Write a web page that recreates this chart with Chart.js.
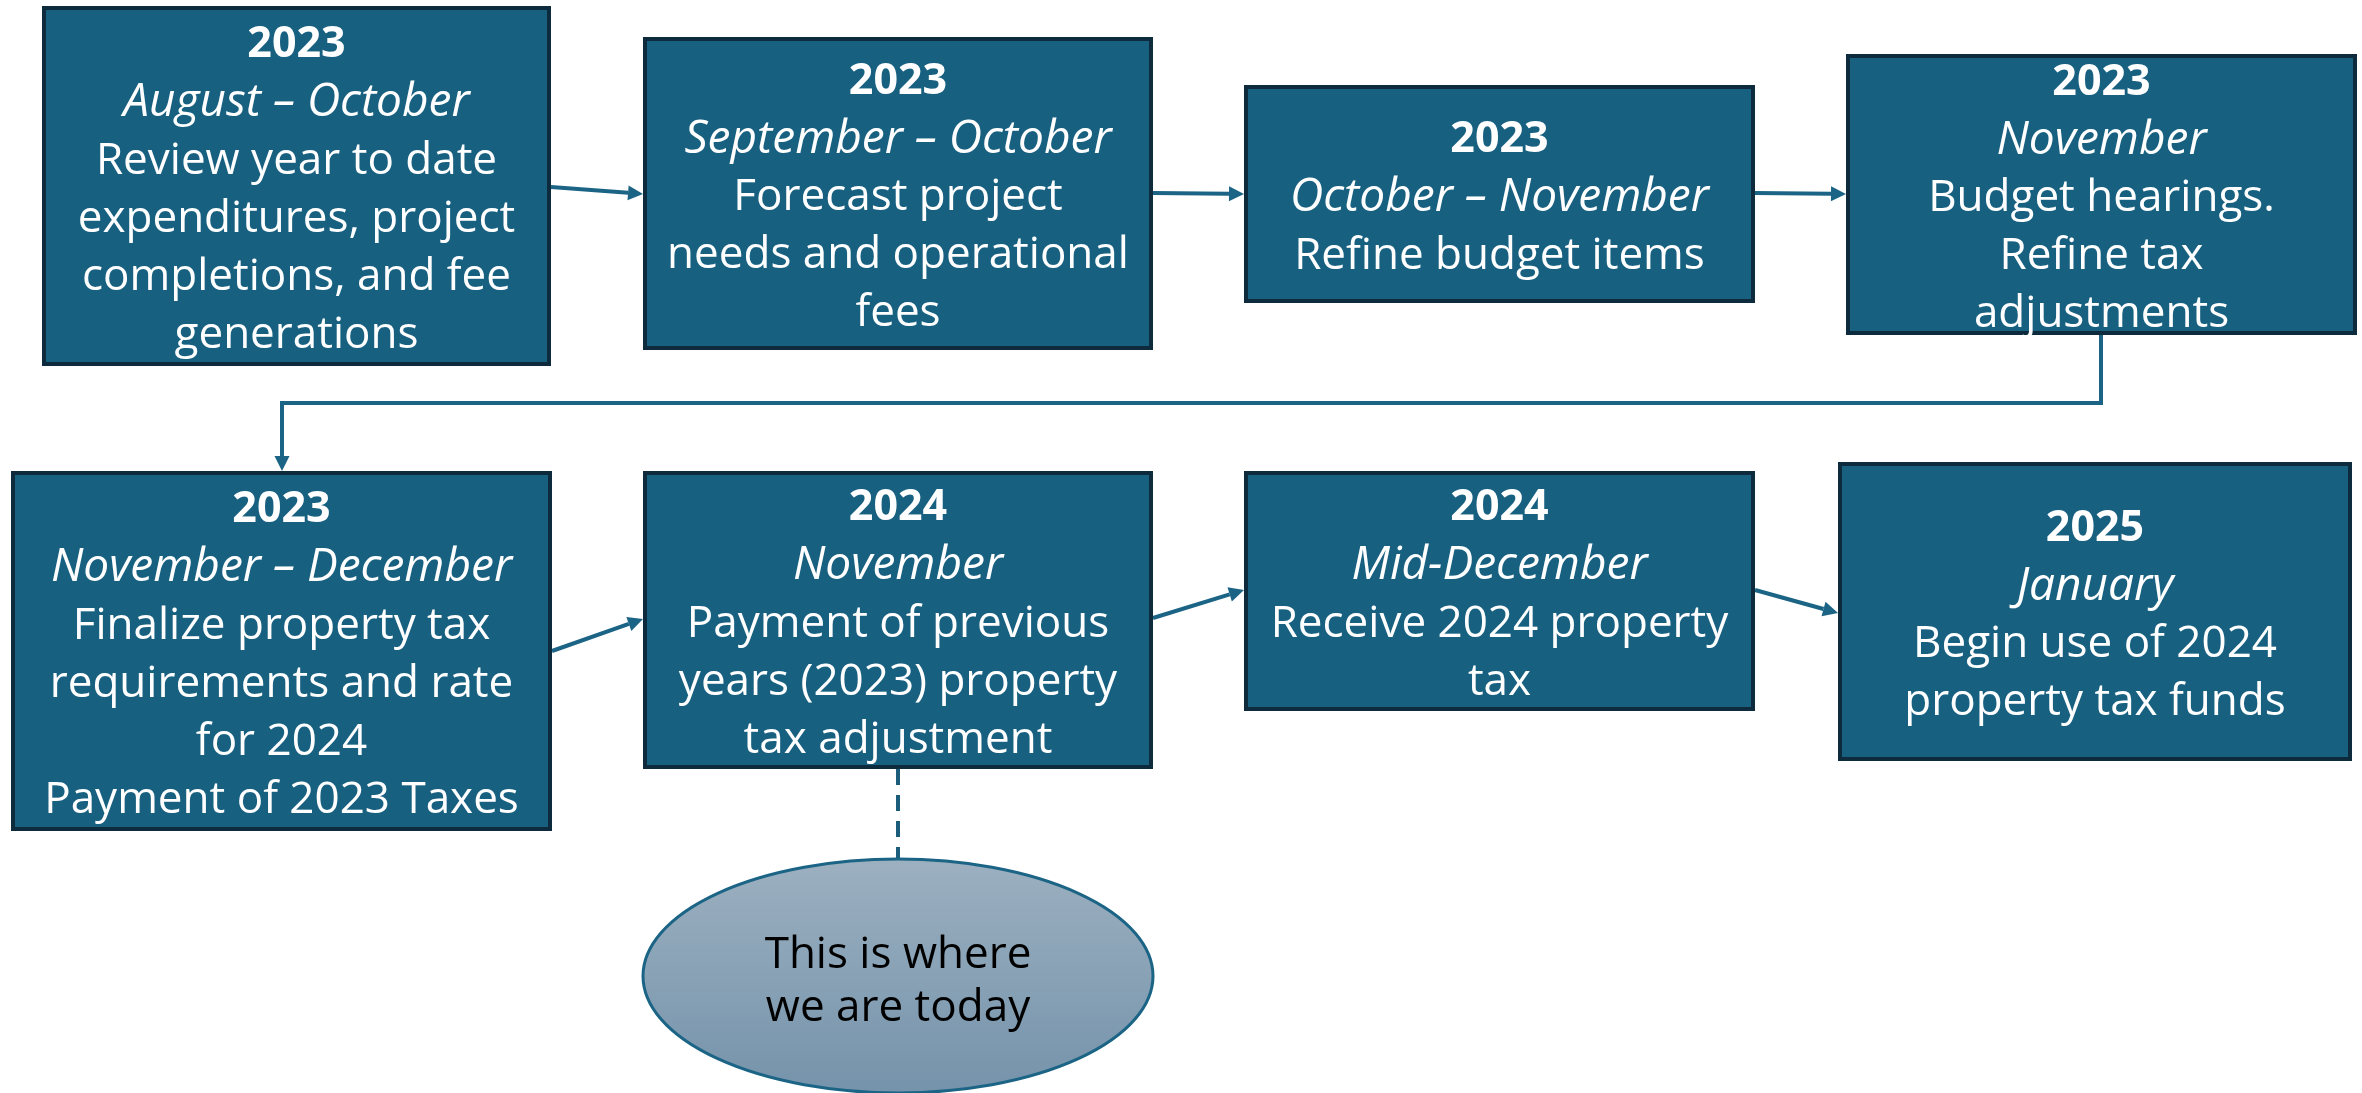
<!DOCTYPE html>
<html>
<head>
<meta charset="utf-8">
<script src="https://cdn.jsdelivr.net/npm/chart.js@4/dist/chart.umd.min.js"></script>
<style>
  html, body { margin: 0; padding: 0; background: #ffffff; }
  #wrap { width: 2362px; height: 1093px; }
</style>
</head>
<body>
<div id="wrap"><canvas id="flow" width="2362" height="1093"></canvas></div>
<script>
// --- contenido de los pasos ---
const years = ['2023', '2023', '2023', '2023', '2023', '2024', '2024', '2025'];
const periods = [
  'August – October',
  'September – October',
  'October – November',
  'November',
  'November – December',
  'November',
  'Mid-December',
  'January',
];
const notes = [
  ['Review year to date', 'expenditures, project', 'completions, and fee', 'generations'],
  ['Forecast project', 'needs and operational', 'fees'],
  ['Refine budget items'],
  ['Budget hearings.', 'Refine tax', 'adjustments'],
  ['Finalize property tax', 'requirements and rate', 'for 2024', 'Payment of 2023 Taxes'],
  ['Payment of previous', 'years (2023) property', 'tax adjustment'],
  ['Receive 2024 property', 'tax'],
  ['Begin use of 2024', 'property tax funds'],
];
const calloutLines = ['This is where', 'we are today'];

// --- layout (unidades del eje = px de la imagen) ---
const boxes = [
  [42, 6, 551, 366],
  [643, 37, 1153, 350],
  [1244, 85, 1755, 303],
  [1846, 54, 2357, 335],
  [11, 471, 552, 831],
  [643, 471, 1153, 769],
  [1244, 471, 1755, 711],
  [1838, 462, 2352, 761],
];
const arrows = [
  [[551, 187], [643, 194]],
  [[1153, 193], [1244, 194]],
  [[1755, 193], [1846, 194]],
  [[2101, 335], [2101, 403], [282, 403], [282, 471]],
  [[552, 651], [643, 619]],
  [[1153, 618], [1244, 590]],
  [[1755, 590], [1838, 613]],
];
const dashLink = [[898, 769], [898, 859]];
const callout = { cx: 898, cy: 976, rx: 255, ry: 117 };

const FONT = '"Open Sans", "Noto Sans", sans-serif';
const LINE_H = 58;
const FILL = '#186080';
const EDGE = '#0d2b3c';
const LINK = '#1b6485';

const flowPlugin = {
  id: 'flowPlugin',
  afterDatasetsDraw(chart) {
    const { ctx } = chart;
    const xs = chart.scales.x;
    const ys = chart.scales.y;
    const px = (v) => xs.getPixelForValue(v);
    const py = (v) => ys.getPixelForValue(v);

    ctx.save();

    // --- flechas / conectores ---
    ctx.strokeStyle = LINK;
    ctx.fillStyle = LINK;
    ctx.lineWidth = 4;
    arrows.forEach((pts) => {
      const p = pts.map(([a, b]) => [px(a), py(b)]);
      const end = p[p.length - 1];
      const prev = p[p.length - 2];
      const ang = Math.atan2(end[1] - prev[1], end[0] - prev[0]);
      const head = 15;
      const baseX = end[0] - Math.cos(ang) * head;
      const baseY = end[1] - Math.sin(ang) * head;
      ctx.beginPath();
      ctx.moveTo(p[0][0], p[0][1]);
      for (let i = 1; i < p.length - 1; i++) ctx.lineTo(p[i][0], p[i][1]);
      ctx.lineTo(baseX, baseY);
      ctx.lineJoin = 'miter';
      ctx.stroke();
      ctx.beginPath();
      ctx.moveTo(end[0], end[1]);
      ctx.lineTo(baseX + Math.sin(ang) * 7.5, baseY - Math.cos(ang) * 7.5);
      ctx.lineTo(baseX - Math.sin(ang) * 7.5, baseY + Math.cos(ang) * 7.5);
      ctx.closePath();
      ctx.fill();
    });

    // --- linea punteada al globo ---
    ctx.setLineDash([16, 10]);
    ctx.strokeStyle = '#1b5d7a';
    ctx.lineWidth = 4;
    ctx.beginPath();
    ctx.moveTo(px(dashLink[0][0]), py(dashLink[0][1]));
    ctx.lineTo(px(dashLink[1][0]), py(dashLink[1][1]));
    ctx.stroke();
    ctx.setLineDash([]);

    // --- cajas ---
    ctx.textAlign = 'center';
    ctx.textBaseline = 'middle';
    boxes.forEach((b, i) => {
      const x0 = px(b[0]), y0 = py(b[1]), x1 = px(b[2]), y1 = py(b[3]);
      ctx.fillStyle = FILL;
      ctx.fillRect(x0, y0, x1 - x0, y1 - y0);
      ctx.strokeStyle = EDGE;
      ctx.lineWidth = 4;
      ctx.strokeRect(x0 + 2, y0 + 2, x1 - x0 - 4, y1 - y0 - 4);

      const lines = [
        { t: years[i], f: 'bold 43px ' + FONT },
        { t: periods[i], f: 'italic 46px ' + FONT },
        ...notes[i].map((t) => ({ t, f: '44px ' + FONT })),
      ];
      const cx = (x0 + x1) / 2;
      const cy = (y0 + y1) / 2 + 4;
      ctx.fillStyle = '#ffffff';
      lines.forEach((ln, k) => {
        ctx.font = ln.f;
        ctx.fillText(ln.t, cx, cy + (k - (lines.length - 1) / 2) * LINE_H);
      });
    });

    // --- globo "hoy" ---
    const ecx = px(callout.cx), ecy = py(callout.cy);
    const erx = Math.abs(px(callout.cx + callout.rx) - ecx);
    const ery = Math.abs(py(callout.cy + callout.ry) - ecy);
    const grad = ctx.createLinearGradient(0, ecy - ery, 0, ecy + ery);
    grad.addColorStop(0, '#9cb0c0');
    grad.addColorStop(1, '#7593ab');
    ctx.beginPath();
    ctx.ellipse(ecx, ecy, erx, ery, 0, 0, Math.PI * 2);
    ctx.fillStyle = grad;
    ctx.fill();
    ctx.strokeStyle = LINK;
    ctx.lineWidth = 3;
    ctx.stroke();

    ctx.fillStyle = '#000000';
    ctx.font = '44px ' + FONT;
    calloutLines.forEach((t, k) => {
      ctx.fillText(t, ecx, ecy + (k - (calloutLines.length - 1) / 2) * 53 + 6);
    });

    ctx.restore();
  },
};

const centers = boxes.map((b) => ({ x: (b[0] + b[2]) / 2, y: (b[1] + b[3]) / 2 }));

new Chart(document.getElementById('flow'), {
  type: 'scatter',
  data: {
    datasets: [
      { label: 'Pasos', data: centers, pointRadius: 0, showLine: false },
    ],
  },
  options: {
    responsive: false,
    animation: false,
    layout: { padding: 0 },
    plugins: { legend: { display: false }, tooltip: { enabled: false } },
    scales: {
      x: { type: 'linear', min: 0, max: 2362, display: false },
      y: { type: 'linear', min: 0, max: 1093, reverse: true, display: false },
    },
  },
  plugins: [flowPlugin],
});
</script>
</body>
</html>
